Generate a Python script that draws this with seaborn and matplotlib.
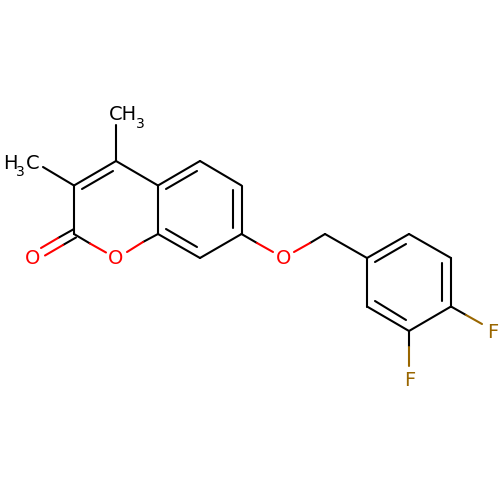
import pandas as pd
import matplotlib
matplotlib.use("Agg")
import matplotlib.pyplot as plt
import seaborn as sns

# bond pieces as x1, y1, x2, y2
black_bonds = [
    (116, 161, 116, 125), (116, 161, 74, 185.5), (113, 171, 82, 189),
    (74, 185.5, 43, 167), (74, 185.5, 74, 234), (74, 229, 58, 238),
    (76, 237.5, 63, 245), (74, 234, 90, 243.5), (143, 242, 158, 234),
    (158, 234, 158, 185.5), (158, 185.5, 116, 161), (158, 185.5, 200, 161),
    (166, 189, 197, 171), (200, 161, 241.5, 185.5), (241.5, 185.5, 241.5, 234),
    (233, 190, 233, 228), (241.5, 234, 200, 258), (200, 258, 158, 234),
    (166, 229, 197, 247), (241.5, 234, 257, 243), (310, 243, 325, 234),
    (325, 234, 367, 258), (367, 258, 409, 234), (375, 262, 406, 244),
    (409, 234, 451, 258), (451, 258, 451, 306.5), (442, 263, 442, 301),
    (451, 306.5, 409, 331), (409, 331, 367, 306.5), (406, 320, 375, 301),
    (367, 306.5, 367, 258), (409, 331, 409, 347), (451, 306.5, 466, 315),
]
red_bonds = [
    (58, 238, 41, 248), (63, 245, 45, 255.5), (90, 243.5, 106, 252.5),
    (127, 252, 143, 242), (257, 243, 273, 252), (294, 252, 310, 243),
]
brown_bonds = [(409, 347, 409, 366), (466, 315, 482, 324)]

# atom labels: text, x (centre), y (baseline), colour, size
atom_labels = [
    ("O", 32.5, 264.5, "#ff0000", 14), ("O", 115.5, 264.5, "#ff0000", 14),
    ("O", 283.5, 264.5, "#ff0000", 14), ("F", 409.5, 386.5, "#996600", 14),
    ("F", 493, 338, "#996600", 14), ("CH", 122.5, 120.5, "#000000", 14),
    ("3", 140.5, 128, "#000000", 10), ("H", 10, 169, "#000000", 14),
    ("3", 20.5, 176, "#000000", 10), ("C", 32.5, 169, "#000000", 14),
]

rows = []
for colour, bonds in [("black", black_bonds), ("red", red_bonds), ("brown", brown_bonds)]:
    for x1, y1, x2, y2 in bonds:
        bond_id = len(rows)
        rows.append({"bond": bond_id, "x": x1, "y": y1, "colour": colour})
        rows.append({"bond": bond_id, "x": x2, "y": y2, "colour": colour})
df = pd.DataFrame(rows)

sns.set_style("white")
fig, ax = plt.subplots(figsize=(5, 5), dpi=100)
fig.subplots_adjust(0, 0, 1, 1)

sns.lineplot(data=df, x="x", y="y", hue="colour", units="bond", estimator=None, sort=False,
             palette={"black": "#000000", "red": "#ff0000", "brown": "#996600"},
             linewidth=1.5, legend=False, solid_capstyle="round", ax=ax)

for text, x, y, colour, size in atom_labels:
    ax.text(x, y, text, color=colour, fontsize=size, ha="center", va="baseline", family="DejaVu Sans")

ax.set_xlim(0, 500)
ax.set_ylim(500, 0)
ax.axis("off")
fig.savefig("out.png", dpi=100)
